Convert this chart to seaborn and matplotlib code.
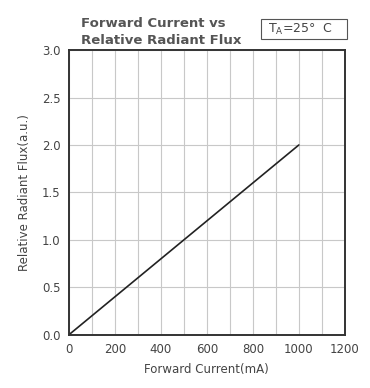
import numpy as np
import pandas as pd
import matplotlib
matplotlib.use("Agg")
import matplotlib.pyplot as plt
from matplotlib.patches import Rectangle
import seaborn as sns

# data
current_ma = [0, 200, 400, 600, 800, 1000]
rel_flux = [0.0, 0.4, 0.8, 1.2, 1.6, 2.0]
x_ticks = [0, 200, 400, 600, 800, 1000, 1200]
y_ticks = [0.0, 0.5, 1.0, 1.5, 2.0, 2.5, 3.0]

df = pd.DataFrame({"current": current_ma, "flux": rel_flux})

sns.set_style("white")
plt.rcParams['font.family'] = ['DejaVu Sans']

fig = plt.figure(figsize=(3.70, 3.88), dpi=100)
ax = fig.add_axes([0.186, 0.137, 0.746, 0.734])

sns.lineplot(data=df, x="current", y="flux", ax=ax, color="#222222", linewidth=1.2)

ax.set_xlim(0, 1200)
ax.set_ylim(0, 3.0)
ax.set_xticks(x_ticks)
ax.set_yticks(y_ticks)
ax.set_xticklabels([str(t) for t in x_ticks])
ax.set_yticklabels([f"{t:.1f}" for t in y_ticks])
ax.set_xticks(np.arange(0, 1201, 100), minor=True)
ax.grid(True, which="both", axis="x", color="#c8c8c8", linewidth=0.8)
ax.grid(True, which="major", axis="y", color="#c8c8c8", linewidth=0.8)
ax.tick_params(which="both", length=0, labelsize=8.5, labelcolor="#444444", pad=6)
for s in ax.spines.values():
    s.set_visible(True)
    s.set_color("#333333")
    s.set_linewidth(1.4)

ax.set_xlabel("Forward Current(mA)", fontsize=8.5, color="#444444", labelpad=5)
ax.set_ylabel("Relative Radiant Flux(a.u.)", fontsize=8.5, color="#444444", labelpad=8)

# title block
fig.text(0.218, 0.957, "Forward Current vs\nRelative Radiant Flux", fontsize=9.5,
         fontweight="bold", color="#555555", va="top", ha="left", linespacing=1.4)

# temperature box
fig.patches.append(Rectangle((0.705, 0.8995), 0.233, 0.0515, transform=fig.transFigure,
                             fill=False, ec="#555555", lw=0.8))
fig.text(0.811, 0.925, r"T$_\mathregular{A}$=25°  C", fontsize=9, color="#444444",
         ha="center", va="center")

fig.savefig("out.png", dpi=100)
